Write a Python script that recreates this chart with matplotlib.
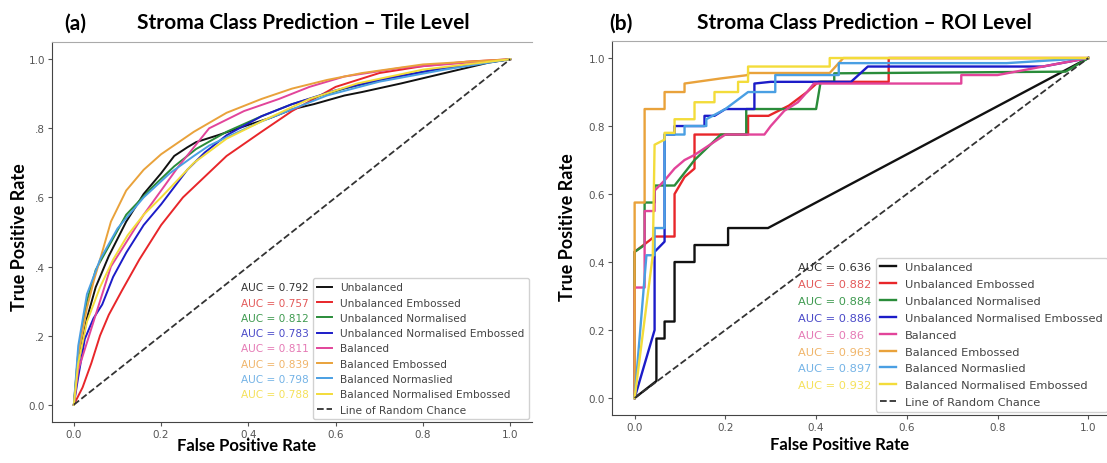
import matplotlib.pyplot as plt

labels = ['Unbalanced', 'Unbalanced Embossed', 'Unbalanced Normalised',
          'Unbalanced Normalised Embossed', 'Balanced', 'Balanced Embossed',
          'Balanced Normaslied', 'Balanced Normalised Embossed']
colors = ['#111111', '#e8262a', '#2a8c3a', '#1c1cc8', '#e2449a', '#e9a23b', '#4a9fe3', '#f3dc3a']
auc_colors = ['#333333', '#e35a5a', '#3f9a50', '#4a4ac8', '#e57ab5', '#f0b56a', '#74b3e6', '#f5e15a']

tile_auc = ['0.792', '0.757', '0.812', '0.783', '0.811', '0.839', '0.798', '0.788']
roi_auc = ['0.636', '0.882', '0.884', '0.886', '0.86', '0.963', '0.897', '0.932']

# tile level curves (fpr, tpr)
tile_unbal_fpr = [0, .01, .03, .05, .08, .12, .16, .2, .23, .26, .28, .33, .4, .45, .5, .55, .62, .66, .75, .85, .95, 1]
tile_unbal_tpr = [0, .12, .25, .34, .43, .53, .61, .67, .72, .745, .76, .78, .81, .83, .855, .87, .895, .905, .93, .96, .99, 1]
tile_emb_fpr = [0, .02, .04, .06, .08, .11, .15, .2, .25, .3, .35, .43, .5, .6, .7, .8, .9, 1]
tile_emb_tpr = [0, .05, .12, .2, .26, .33, .42, .52, .6, .66, .72, .79, .85, .92, .96, .98, .993, 1]
tile_norm_fpr = [0, .01, .03, .05, .085, .12, .18, .23, .28, .35, .43, .5, .62, .72, .85, 1]
tile_norm_tpr = [0, .15, .3, .39, .47, .55, .63, .69, .74, .79, .835, .87, .915, .945, .975, 1]
tile_normemb_fpr = [0, .01, .025, .045, .065, .09, .12, .16, .2, .26, .3, .35, .43, .5, .6, .7, .85, 1]
tile_normemb_tpr = [0, .08, .19, .25, .29, .37, .44, .52, .58, .68, .73, .78, .835, .87, .91, .94, .975, 1]
tile_bal_fpr = [0, .01, .03, .05, .085, .12, .16, .2, .24, .31, .39, .47, .54, .62, .75, .9, 1]
tile_bal_tpr = [0, .1, .18, .26, .4, .47, .55, .62, .69, .8, .85, .885, .92, .95, .975, .99, 1]
tile_balemb_fpr = [0, .01, .03, .046, .06, .085, .12, .16, .2, .275, .35, .43, .5, .58, .66, .8, 1]
tile_balemb_tpr = [0, .15, .28, .36, .42, .53, .62, .68, .725, .79, .845, .885, .915, .94, .96, .985, 1]
tile_balnorm_fpr = [0, .01, .03, .06, .1, .16, .22, .275, .31, .36, .43, .5, .58, .7, .85, 1]
tile_balnorm_tpr = [0, .17, .32, .42, .51, .6, .67, .72, .75, .78, .82, .855, .895, .935, .97, 1]
tile_balnormemb_fpr = [0, .01, .03, .06, .09, .123, .16, .2, .275, .35, .43, .54, .65, .8, 1]
tile_balnormemb_tpr = [0, .12, .24, .34, .42, .49, .55, .6, .7, .77, .82, .885, .93, .97, 1]

# ROI level curves (step points)
roi_unbal_fpr = [0, .048, .048, .066, .066, .088, .088, .132, .132, .206, .206, .294, 1]
roi_unbal_tpr = [0, .05, .175, .175, .225, .225, .40, .40, .45, .45, .50, .50, 1]
roi_emb_fpr = [0, 0, .044, .088, .088, .11, .132, .132, .25, .25, .295, .34, .38, .405, .56, .56, 1]
roi_emb_tpr = [0, .43, .475, .475, .6, .65, .675, .775, .775, .83, .83, .86, .9, .93, .93, 1, 1]
roi_norm_fpr = [0, 0, .022, .022, .044, .044, .088, .132, .19, .246, .246, .40, .41, .44, .44, .95, 1]
roi_norm_tpr = [0, .43, .45, .575, .575, .625, .625, .7, .775, .775, .85, .85, .93, .93, .955, .96, 1]
roi_normemb_fpr = [0, .044, .044, .066, .066, .088, .088, .154, .154, .176, .2, .264, .264, .3, .477, .514, .9, 1]
roi_normemb_tpr = [0, .2, .43, .46, .775, .775, .8, .8, .83, .83, .85, .85, .925, .93, .93, .975, .975, 1]
roi_bal_fpr = [0, 0, .022, .022, .044, .044, .066, .088, .11, .132, .2, .286, .3, .33, .36, .38, .395, .72, .72, .8, 1]
roi_bal_tpr = [0, .325, .325, .55, .55, .61, .64, .675, .7, .715, .775, .775, .8, .845, .87, .9, .925, .925, .95, .95, 1]
roi_balemb_fpr = [0, 0, .022, .022, .066, .066, .11, .11, .19, .25, .25, .43, .46, 1]
roi_balemb_tpr = [0, .575, .575, .85, .85, .90, .90, .925, .94, .95, .956, .956, 1, 1]
roi_balnorm_fpr = [0, .026, .044, .044, .066, .066, .11, .11, .158, .158, .2, .25, .31, .31, .45, .45, .82, 1]
roi_balnorm_tpr = [0, .42, .42, .5, .5, .775, .775, .8, .8, .82, .85, .9, .9, .95, .95, .985, .985, 1]
roi_balnormemb_fpr = [0, .04, .044, .066, .066, .088, .088, .132, .132, .176, .176, .228, .228, .25, .25, .43, .43, 1]
roi_balnormemb_tpr = [0, .42, .745, .76, .78, .78, .82, .82, .87, .87, .9, .9, .93, .93, .975, .975, 1, 1]

tile_curves = [(tile_unbal_fpr, tile_unbal_tpr), (tile_emb_fpr, tile_emb_tpr),
               (tile_norm_fpr, tile_norm_tpr), (tile_normemb_fpr, tile_normemb_tpr),
               (tile_bal_fpr, tile_bal_tpr), (tile_balemb_fpr, tile_balemb_tpr),
               (tile_balnorm_fpr, tile_balnorm_tpr), (tile_balnormemb_fpr, tile_balnormemb_tpr)]
roi_curves = [(roi_unbal_fpr, roi_unbal_tpr), (roi_emb_fpr, roi_emb_tpr),
              (roi_norm_fpr, roi_norm_tpr), (roi_normemb_fpr, roi_normemb_tpr),
              (roi_bal_fpr, roi_bal_tpr), (roi_balemb_fpr, roi_balemb_tpr),
              (roi_balnorm_fpr, roi_balnorm_tpr), (roi_balnormemb_fpr, roi_balnormemb_tpr)]

fig = plt.figure(figsize=(11.07, 4.64), dpi=100)
ax1 = fig.add_axes([0.047, 0.0884, 0.4336, 0.819])
ax2 = fig.add_axes([0.5528, 0.1034, 0.4508, 0.806])

title_font = dict(family=['Lato', 'DejaVu Sans'], weight='bold')


def draw_panel(ax, curves, aucs, lw, fs, spacing):
    for (x, y), lab, c in zip(curves, labels, colors):
        ax.plot(x, y, color=c, lw=lw, label=lab)
    ax.plot([0, 1], [0, 1], '--', color='#333333', lw=1.3, label='Line of Random Chance')
    ax.set_xlim(-0.05, 1.05)
    ax.set_ylim(-0.05, 1.05)
    ax.set_xticks([0, .2, .4, .6, .8, 1.0])
    ax.set_yticks([0, .2, .4, .6, .8, 1.0])
    ax.tick_params(labelsize=7.5, labelcolor='#555555', color='#555555', length=3, pad=2)
    ax.spines['right'].set_visible(False)
    ax.spines['top'].set_color('#aaaaaa')
    for s in ['left', 'bottom']:
        ax.spines[s].set_color('#444444')
    leg = ax.legend(loc='lower right', fontsize=fs, handlelength=1.4, handletextpad=0.8,
                    labelspacing=spacing, borderaxespad=0.3, framealpha=0.9)
    for t in leg.get_texts():
        t.set_color('#444444')
    # AUC values sit left of the legend, one per legend row
    fig.canvas.draw()
    inv = ax.transAxes.inverted()
    x0 = inv.transform(leg.get_frame().get_window_extent().p0)[0]
    texts = []
    for t, a, c in zip(leg.get_texts(), aucs, auc_colors):
        bb = t.get_window_extent()
        yc = inv.transform((bb.x0, (bb.y0 + bb.y1) / 2))[1]
        texts.append(ax.text(x0, yc, 'AUC = ' + a, color=c, fontsize=fs, ha='left', va='center',
                             transform=ax.transAxes))
    fig.canvas.draw()
    w = max(t.get_window_extent().width for t in texts)
    w_ax = w / ax.get_window_extent().width
    for t in texts:
        t.set_x(x0 - 0.008 - w_ax)
    return leg


draw_panel(ax1, tile_curves, tile_auc, 1.4, 7.6, 0.5)
ax1.set_yticklabels(['0.0', '.2', '.4', '.6', '.8', '1.0'])
draw_panel(ax2, roi_curves, roi_auc, 1.7, 8.2, 0.6)

fig.text(0.068, 0.95, '(a)', fontsize=15, ha='center', va='center', **title_font)
fig.text(0.274, 0.95, 'Stroma Class Prediction \u2013 Tile Level', fontsize=15, ha='center', va='center', **title_font)
fig.text(0.561, 0.95, '(b)', fontsize=15, ha='center', va='center', **title_font)
fig.text(0.781, 0.95, 'Stroma Class Prediction \u2013 ROI Level', fontsize=15, ha='center', va='center', **title_font)

fig.text(0.223, 0.028, 'False Positive Rate', fontsize=12, ha='center', va='baseline', **title_font)
fig.text(0.758, 0.030, 'False Positive Rate', fontsize=12, ha='center', va='baseline', **title_font)
fig.text(0.018, 0.49, 'True Positive Rate', fontsize=13, ha='center', va='center', rotation=90, **title_font)
fig.text(0.513, 0.51, 'True Positive Rate', fontsize=13, ha='center', va='center', rotation=90, **title_font)

fig.savefig('out.png', dpi=100)
